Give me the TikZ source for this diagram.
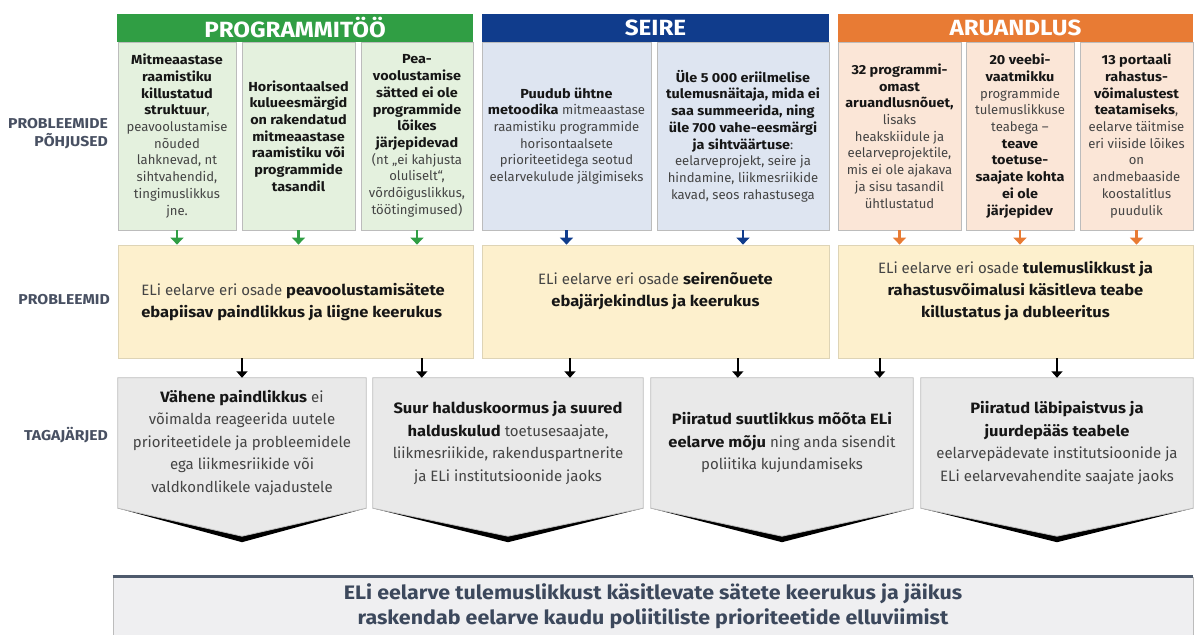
\documentclass[tikz,border=0pt]{standalone}
\usepackage{fontspec}
\setmainfont{Fira Sans}[BoldFeatures={FakeStretch=1.1}]
\usetikzlibrary{arrows.meta,backgrounds}
\definecolor{ghead}{RGB}{48,158,68}
\definecolor{gfillc}{RGB}{228,241,222}
\definecolor{bhead}{RGB}{16,60,140}
\definecolor{bfillc}{RGB}{222,229,241}
\definecolor{ohead}{RGB}{232,123,52}
\definecolor{ofillc}{RGB}{251,230,215}
\definecolor{yfill}{RGB}{253,240,205}
\definecolor{yborder}{RGB}{222,212,182}
\definecolor{cfill}{RGB}{233,233,233}
\definecolor{cborder}{RGB}{188,188,188}
\definecolor{lblc}{RGB}{72,80,98}
\definecolor{bantxt}{RGB}{60,72,92}
\definecolor{banline}{RGB}{78,90,108}
\definecolor{banfill}{RGB}{239,239,241}
\definecolor{ntxt}{RGB}{68,68,68}
\definecolor{btxt}{RGB}{22,22,22}
\newcommand\kb[1]{\textbf{\color{btxt}#1}}
\tikzset{
 hdr/.style={minimum height=28pt, inner sep=0pt, text=white, font=\fontsize{22}{24}\selectfont\bfseries},
 cause/.style={draw=cborder, line width=0.8pt, minimum height=188pt, inner sep=0pt, align=center, text=ntxt, font=\fontsize{13.1}{16.7}\selectfont},
 prob/.style={draw=yborder, fill=yfill, line width=0.8pt, minimum height=113pt, inner sep=0pt},
 ptext/.style={inner sep=0pt, text=ntxt, font=\fontsize{15}{22}\selectfont},
 cons/.style={minimum height=130pt, inner sep=0pt, align=center, text=ntxt, font=\fontsize{15}{22.5}\selectfont},
 chev/.style={fill=cfill, draw=cborder, line width=0.8pt},
 carr/.style={line width=2.4pt, -{Triangle[width=13pt,length=7pt]}},
 barr/.style={line width=2pt, black, -{Triangle[width=11pt,length=6.5pt]}},
 lbl/.style={anchor=east, align=right, inner sep=0pt, text=lblc, font=\fontsize{14.3}{18}\selectfont\bfseries},
}
\begin{document}
\begin{tikzpicture}[x=1pt,y=-1pt]
\useasboundingbox (0,0) rectangle (1195,635);

% left labels
\node[lbl] (l1) at (108,134) {PROBLEEMIDE\\PÕHJUSED};
\node[lbl] (l2) at (110,300) {PROBLEEMID};
\node[lbl] (l3) at (108,435) {TAGAJÄRJED};

% headers
\node[hdr, fill=ghead, minimum width=356pt] (hg) at (295,28) {PROGRAMMITÖÖ};
\node[hdr, fill=bhead, minimum width=347pt] (hb) at (655.5,28) {SEIRE};
\node[hdr, fill=ohead, minimum width=355pt] (ho) at (1015.5,28) {ARUANDLUS};

% causes
\node[cause, fill=gfillc, minimum width=118pt] (g1) at (177,136) {\kb{Mitmeaastase}\\\kb{raamistiku}\\\kb{killustatud}\\\kb{struktuur},\\peavoolustamise\\nõuded\\lahknevad, nt\\sihtvahendid,\\tingimuslikkus\\jne.};
\node[cause, fill=gfillc, minimum width=113pt] (g2) at (298.5,136) {\kb{Horisontaalsed}\\\kb{kulueesmärgid}\\\kb{on rakendatud}\\\kb{mitmeaastase}\\\kb{raamistiku või}\\\kb{programmide}\\\kb{tasandil}};
\node[cause, fill=gfillc, minimum width=112pt] (g3) at (417,136) {\kb{Pea-}\\\kb{voolustamise}\\\kb{sätted ei ole}\\\kb{programmide}\\\kb{lõikes}\\\kb{järjepidevad}\\(nt „ei kahjusta\\oluliselt“,\\võrdõiguslikkus,\\töötingimused)};
\node[cause, fill=bfillc, minimum width=169pt] (b1) at (566.5,136) {\kb{Puudub ühtne}\\\kb{metoodika} mitmeaastase\\raamistiku programmide\\horisontaalsete\\prioriteetidega seotud\\eelarvekulude jälgimiseks};
\node[cause, fill=bfillc, minimum width=172pt] (b2) at (743,136) {\kb{Üle 5 000 eriilmelise}\\\kb{tulemusnäitaja, mida ei}\\\kb{saa summeerida, ning}\\\kb{üle 700 vahe-eesmärgi}\\\kb{ja sihtväärtuse}:\\eelarveprojekt, seire ja\\hindamine, liikmesriikide\\kavad, seos rahastusega};
\node[cause, fill=ofillc, minimum width=123pt] (o1) at (899.5,136) {\kb{32 programmi-}\\\kb{omast}\\\kb{aruandlusnõuet,}\\lisaks\\heakskiidule ja\\eelarveprojektile,\\mis ei ole ajakava\\ja sisu tasandil\\ühtlustatud};
\node[cause, fill=ofillc, minimum width=108pt] (o2) at (1020,136) {\kb{20 veebi-}\\\kb{vaatmikku}\\programmide\\tulemuslikkuse\\teabega –\\\kb{teave}\\\kb{toetuse-}\\\kb{saajate kohta}\\\kb{ei ole}\\\kb{järjepidev}};
\node[cause, fill=ofillc, minimum width=113pt] (o3) at (1136.5,136) {\kb{13 portaali}\\\kb{rahastus-}\\\kb{võimalustest}\\\kb{teatamiseks},\\eelarve täitmise\\eri viiside lõikes\\on\\andmebaaside\\koostalitlus\\puudulik};

% problems
\node[prob, minimum width=355pt] (p1) at (295.5,301.5) {};
\node[prob, minimum width=347pt] (p2) at (655.5,301.5) {};
\node[prob, minimum width=355pt] (p3) at (1015.5,301.5) {};
\node[ptext, align=left] (p1t) at (293,302) {ELi eelarve eri osade \kb{peavoolustamisätete}\\\kb{ebapiisav paindlikkus ja liigne keerukus}};
\node[ptext, align=center] (p2t) at (655.5,291) {ELi eelarve eri osade \kb{seirenõuete}\\\kb{ebajärjekindlus ja keerukus}};
\node[ptext, align=center] (p3t) at (1015.5,291) {ELi eelarve eri osade \kb{tulemuslikkust ja}\\\kb{rahastusvõimalusi käsitleva teabe}\\\kb{killustatus ja dubleeritus}};

% cause -> problem arrows
\foreach \n in {g1,g2,g3} \draw[carr, ghead] (\n.south) -- (\n.south |- p1.north);
\foreach \n in {b1,b2} \draw[carr, bhead] (\n.south) -- (\n.south |- p2.north);
\foreach \n in {o1,o2,o3} \draw[carr, ohead] (\n.south) -- (\n.south |- p3.north);

% consequences
\node[cons, minimum width=248pt] (c1) at (242,443) {\kb{Vähene paindlikkus} ei\\võimalda reageerida uutele\\prioriteetidele ja probleemidele\\ega liikmesriikide või\\valdkondlikele vajadustele};
\node[cons, minimum width=270pt] (c2) at (508,443) {\kb{Suur halduskoormus ja suured}\\\kb{halduskulud} toetusesaajate,\\liikmesriikide, rakenduspartnerite\\ja ELi institutsioonide jaoks};
\node[cons, minimum width=262pt] (c3) at (782,443) {\kb{Piiratud suutlikkus mõõta ELi}\\\kb{eelarve mõju} ning anda sisendit\\poliitika kujundamiseks};
\node[cons, minimum width=272pt] (c4) at (1057,443) {\kb{Piiratud läbipaistvus ja}\\\kb{juurdepääs teabele}\\eelarvepädevate institutsioonide ja\\ELi eelarvevahendite saajate jaoks};
\foreach \n in {c1,c2,c3,c4} \coordinate (\n tip) at ([yshift=-28pt]\n.south);

\begin{pgfonlayer}{background}
\foreach \n in {c1,c2,c3,c4}{
  \fill[black] (\n.south west) -- ([yshift=-6pt]\n tip) -- (\n.south east) -- cycle;
  \path[chev] (\n.north west) -- (\n.north east) -- (\n.south east) -- (\n tip) -- (\n.south west) -- cycle;
}
\end{pgfonlayer}

% problem -> consequence arrows
\draw[barr] (p1.south -| c1.north) -- (c1.north);
\draw[barr] ([xshift=49pt]p1.south -| c2.north west) -- ([xshift=49pt]c2.north west);
\draw[barr] ([xshift=-85.5pt]p2.south) -- ([xshift=-85.5pt]p2.south |- c2.north);
\draw[barr] ([xshift=87pt]p2.south -| c3.north west) -- ([xshift=87pt]c3.north west);
\draw[barr] ([xshift=42pt]p3.south west) -- ([xshift=42pt]p3.south west |- c3.north);
\draw[barr] (p3.south -| c4.north) -- (c4.north);

% result banner
\node[fill=banfill, draw=cborder, line width=0.6pt, minimum width=1080pt, minimum height=58pt, inner sep=0pt, align=center, text=bantxt, font=\fontsize{19.5}{25}\selectfont\bfseries] (res) at (653,606) {ELi eelarve tulemuslikkust käsitlevate sätete keerukus ja jäikus\\raskendab eelarve kaudu poliitiliste prioriteetide elluviimist};
\draw[banline, line width=3pt] (res.north west) -- (res.north east);
\end{tikzpicture}
\end{document}
